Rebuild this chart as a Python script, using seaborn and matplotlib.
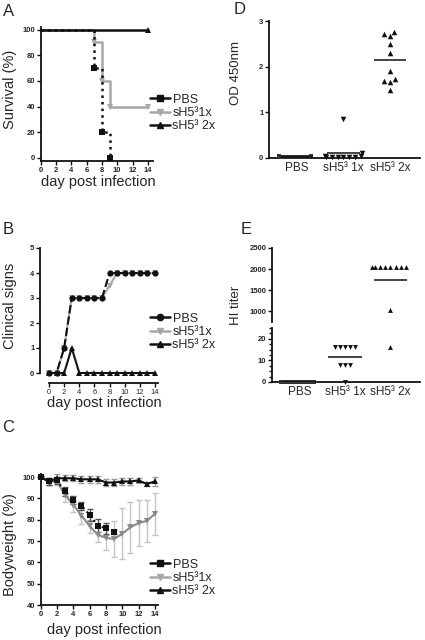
import matplotlib
matplotlib.use("Agg")
import numpy as np
import matplotlib.pyplot as plt
import seaborn as sns
from matplotlib.lines import Line2D
from matplotlib.ticker import MultipleLocator

# ---- data ----
legend_labels = ["PBS", "sH5³1x", "sH5³ 2x"]
group_ticks = ["PBS", "sH5³ 1x", "sH5³ 2x"]

# A: survival (%)
surv_pbs_day = [0, 7, 8, 9]
surv_pbs = [100, 70, 20, 0]
surv_1x_day = [0, 7, 8, 9, 14]
surv_1x = [100, 90, 60, 40, 40]
surv_2x_day = [0, 14]
surv_2x = [100, 100]

# B: clinical signs
days = list(range(15))
clin_pbs = [0, 0, 1, 3, 3, 3, 3, 3, 4, 4, 4, 4, 4, 4, 4]
clin_1x = [0, 0, 1, 3, 3, 3, 3, 3, 3.5, 4, 4, 4, 4, 4, 4]
clin_2x = [0, 0, 0, 1, 0, 0, 0, 0, 0, 0, 0, 0, 0, 0, 0]

# C: bodyweight (%) mean and SD
bw_pbs_day = list(range(10))
bw_pbs = [100, 98, 98.5, 93.3, 89.3, 86.5, 82.3, 77.3, 76, 74.2]
bw_pbs_sd = [0.5, 1.5, 1.5, 2, 2, 2, 3, 3, 2.5, 1]
bw_1x = [100, 98, 98, 91.5, 87, 82, 77, 73, 71.5, 71, 73.5, 76.5, 78.5, 79.5, 82.8]
bw_1x_sd = [0.5, 1.5, 1.5, 3, 3.5, 4, 3, 3.5, 5.5, 8.6, 12, 12, 11, 10, 10]
bw_2x = [100, 98, 99.5, 99.5, 99.5, 99, 99, 99, 97.5, 97.5, 98, 98, 98.5, 96.8, 98]
bw_2x_sd = [0.5, 1.5, 2, 1.5, 1.5, 1.5, 1.5, 1.5, 1.5, 1.5, 1.5, 1.5, 1, 1, 2]

# D: OD 450nm per animal
od_pbs = [0.02, 0.03, 0.02, 0.04, 0.03, 0.05, 0.03, 0.02, 0.03, 0.02]
od_1x = [0.86, 0.10, 0.04, 0.03, 0.03, 0.02, 0.03, 0.02, 0.04, 0.03]
od_2x = [2.72, 2.68, 2.77, 2.50, 2.30, 1.90, 1.68, 1.67, 1.73, 1.50]

# E: HI titer per animal
hi_pbs = [0, 0, 0, 0, 0, 0, 0, 0, 0, 0]
hi_1x = [16, 16, 16, 16, 16, 8, 8, 8, 0]
hi_2x = [2048, 2048, 2048, 2048, 2048, 2048, 2048, 2048, 1024, 16]

BLACK = "#111111"
GRAY = "#a8a8a8"
DGRAY = "#8a8a8a"

sns.set_theme(style="ticks")
plt.rcParams["font.family"] = ["Liberation Sans", "DejaVu Sans"]

W, H = 425, 640
fig = plt.figure(figsize=(W / 100, H / 100), dpi=100)


def rect(left, top, width, height):
    return [left / W, 1 - (top + height) / H, width / W, height / H]


def ftext(x, y, s, **kw):
    fig.text(x / W, 1 - y / H, s, ha="center", va="center", **kw)


def style(ax):
    sns.despine(ax=ax)
    for sp in ("left", "bottom"):
        ax.spines[sp].set_linewidth(1.3)
        ax.spines[sp].set_color(BLACK)
    ax.tick_params(length=3, width=1, color=BLACK, pad=1, labelsize=5.5)
    for lab in ax.get_xticklabels() + ax.get_yticklabels():
        lab.set_fontweight("bold")


def add_legend(ax, handles, x, y):
    ax.legend(handles, legend_labels, loc="center left",
              bbox_to_anchor=(x / W, 1 - y / H), bbox_transform=fig.transFigure,
              frameon=False, fontsize=9, handlelength=1.6, handletextpad=0.2,
              labelspacing=0.1, borderpad=0, borderaxespad=0)


def handles(pbs_marker):
    return [
        Line2D([], [], color=BLACK, lw=1.8, marker=pbs_marker, ms=4.5),
        Line2D([], [], color=GRAY, lw=1.8, marker="v", ms=4.5),
        Line2D([], [], color=BLACK, lw=1.8, marker="^", ms=4.5),
    ]


# ---------------- A ----------------
axA = fig.add_axes(rect(40.5, 27, 112.7, 134))
sns.lineplot(x=surv_1x_day, y=surv_1x, ax=axA, color=GRAY, lw=1.8,
             drawstyle="steps-post", marker="v", markersize=4.5,
             markevery=slice(1, None), markeredgewidth=0, clip_on=False)
sns.lineplot(x=surv_pbs_day, y=surv_pbs, ax=axA, color=BLACK, lw=1.8,
             linestyle=":", drawstyle="steps-post", marker="s", markersize=4,
             markevery=slice(1, None), markeredgewidth=0, clip_on=False)
sns.lineplot(x=surv_2x_day, y=surv_2x, ax=axA, color=BLACK, lw=1.8,
             marker="^", markersize=4.5, markevery=slice(1, None),
             markeredgewidth=0, clip_on=False)
axA.set_xlim(0, 14.7)
axA.set_ylim(-2.5, 102)
axA.set_xticks(range(0, 15, 2))
axA.set_yticks(range(0, 101, 20))
axA.set_xlabel("")
axA.set_ylabel("")
style(axA)
add_legend(axA, handles("s"), 150, 113)
ftext(98, 182, "day post infection", fontsize=10.5)
ftext(10, 89, "Survival (%)", fontsize=10.5, rotation=90)
ftext(9, 11, "A", fontsize=12)

# ---------------- B ----------------
axB = fig.add_axes(rect(40, 248, 120, 125))
sns.lineplot(x=days, y=clin_1x, ax=axB, color=GRAY, lw=1.5, marker="v",
             markersize=4, markeredgewidth=0, clip_on=False)
sns.lineplot(x=days, y=clin_pbs, ax=axB, color=BLACK, lw=1.5,
             linestyle=(0, (4, 1.5)), marker="o", markersize=4.5,
             markeredgewidth=0, clip_on=False)
sns.lineplot(x=days, y=clin_2x, ax=axB, color=BLACK, lw=1.5, marker="^",
             markersize=4, markeredgewidth=0, clip_on=False)
axB.set_xlim(-1.19, 14.66)
axB.set_ylim(0, 5)
axB.set_xticks(range(0, 15, 2))
axB.set_yticks(range(0, 6))
axB.set_xlabel("")
axB.set_ylabel("")
style(axB)
axB.spines["bottom"].set_position(("outward", 7.2))
axB.spines["bottom"].set_bounds(0, 14.4)
add_legend(axB, handles("o"), 150, 332)
ftext(104, 403, "day post infection", fontsize=10.5)
ftext(10, 306, "Clinical signs", fontsize=10.5, rotation=90)
ftext(8, 229, "B", fontsize=12)

# ---------------- C ----------------
axC = fig.add_axes(rect(40.7, 474, 117.5, 131))
axC.errorbar(days, bw_1x, yerr=bw_1x_sd, fmt="none", ecolor="#c4c4c4",
             elinewidth=1, capsize=2.5, capthick=1, zorder=1)
axC.errorbar(days, bw_2x, yerr=bw_2x_sd, fmt="none", ecolor="#9a9a9a",
             elinewidth=1, capsize=2.5, capthick=1, zorder=1)
axC.errorbar(bw_pbs_day, bw_pbs, yerr=bw_pbs_sd, fmt="none", ecolor="#555555",
             elinewidth=1, capsize=2.5, capthick=1, zorder=1)
sns.lineplot(x=days, y=bw_1x, ax=axC, color=DGRAY, lw=1.5, marker="v",
             markersize=4.5, markeredgewidth=0, clip_on=False, zorder=3)
sns.lineplot(x=bw_pbs_day, y=bw_pbs, ax=axC, color=BLACK, lw=1.5,
             linestyle=":", marker="s", markersize=4.5, markeredgewidth=0,
             clip_on=False, zorder=4)
sns.lineplot(x=days, y=bw_2x, ax=axC, color=BLACK, lw=1.5, marker="^",
             markersize=4.5, markeredgewidth=0, clip_on=False, zorder=4)
axC.set_xlim(0, 14.4)
axC.set_ylim(40, 101.5)
axC.set_xticks(range(0, 15, 2))
axC.set_yticks(range(40, 101, 10))
axC.set_xlabel("")
axC.set_ylabel("")
style(axC)
add_legend(axC, handles("s"), 150, 578)
ftext(104, 630, "day post infection", fontsize=10.5)
ftext(10, 545, "Bodyweight (%)", fontsize=10.5, rotation=90)
ftext(8, 427, "C", fontsize=12)


# ---------------- D ----------------
def swarm(ax, values, idx, marker, size, color):
    sns.swarmplot(x=[group_ticks[idx]] * len(values), y=values, order=group_ticks,
                  ax=ax, marker=marker, size=size, color=color, linewidth=0,
                  clip_on=False)


def mean_line(ax, values, idx, half):
    ax.hlines(np.mean(values), idx - half, idx + half, color=BLACK, lw=1.1, zorder=5)


axD = fig.add_axes(rect(269, 21, 151, 137))
swarm(axD, od_pbs, 0, "s", 2.5, "#333333")
swarm(axD, od_1x, 1, "v", 4, BLACK)
swarm(axD, od_2x, 2, "^", 4, BLACK)
for i, vals in enumerate([od_pbs, od_1x, od_2x]):
    mean_line(axD, vals, i, 0.35)
axD.set_xlim(-0.6, 2.65)
axD.set_ylim(0, 3)
axD.set_yticks([0, 1, 2, 3])
axD.set_xlabel("")
axD.set_ylabel("")
style(axD)
axD.tick_params(axis="x", length=0, labelsize=8.5, pad=3)
for lab in axD.get_xticklabels():
    lab.set_fontweight("normal")
ftext(236, 73, "OD 450nm", fontsize=9.5, rotation=90)
ftext(240, 10, "D", fontsize=12)

# ---------------- E (broken y axis) ----------------
axEt = fig.add_axes(rect(272, 248, 148, 74))
axEb = fig.add_axes(rect(272, 328, 148, 54))
cut = 500
hi_groups = [hi_pbs, hi_1x, hi_2x]
markers = ["s", "v", "^"]
sizes = [2.5, 3.5, 3.5]
colors = ["#333333", BLACK, BLACK]
for i, vals in enumerate(hi_groups):
    hi_top = [v for v in vals if v >= cut]
    hi_low = [v for v in vals if v < cut]
    if hi_top:
        swarm(axEt, hi_top, i, markers[i], sizes[i], colors[i])
    if hi_low:
        swarm(axEb, hi_low, i, markers[i], sizes[i], colors[i])
    m = np.mean(vals)
    mean_line(axEt if m >= cut else axEb, vals, i, 0.37)

for ax in (axEt, axEb):
    ax.set_xlim(-0.6, 2.65)
    ax.set_xlabel("")
    ax.set_ylabel("")
axEt.set_ylim(750, 2500)
axEt.set_yticks([1000, 1500, 2000, 2500])
axEb.set_ylim(0, 25)
axEb.set_yticks([0, 10, 20])
axEb.yaxis.set_minor_locator(MultipleLocator(2.5))
style(axEt)
style(axEb)
axEt.spines["bottom"].set_visible(False)
axEt.tick_params(axis="x", bottom=False, labelbottom=False)
axEb.tick_params(axis="y", which="minor", length=2, width=1, color=BLACK)
axEb.tick_params(axis="x", length=0, labelsize=8.5, pad=3)
for lab in axEb.get_xticklabels():
    lab.set_fontweight("normal")
ftext(236, 305, "HI titer", fontsize=9.5, rotation=90)
ftext(246, 229, "E", fontsize=12)

fig.savefig("out.png", dpi=100)
